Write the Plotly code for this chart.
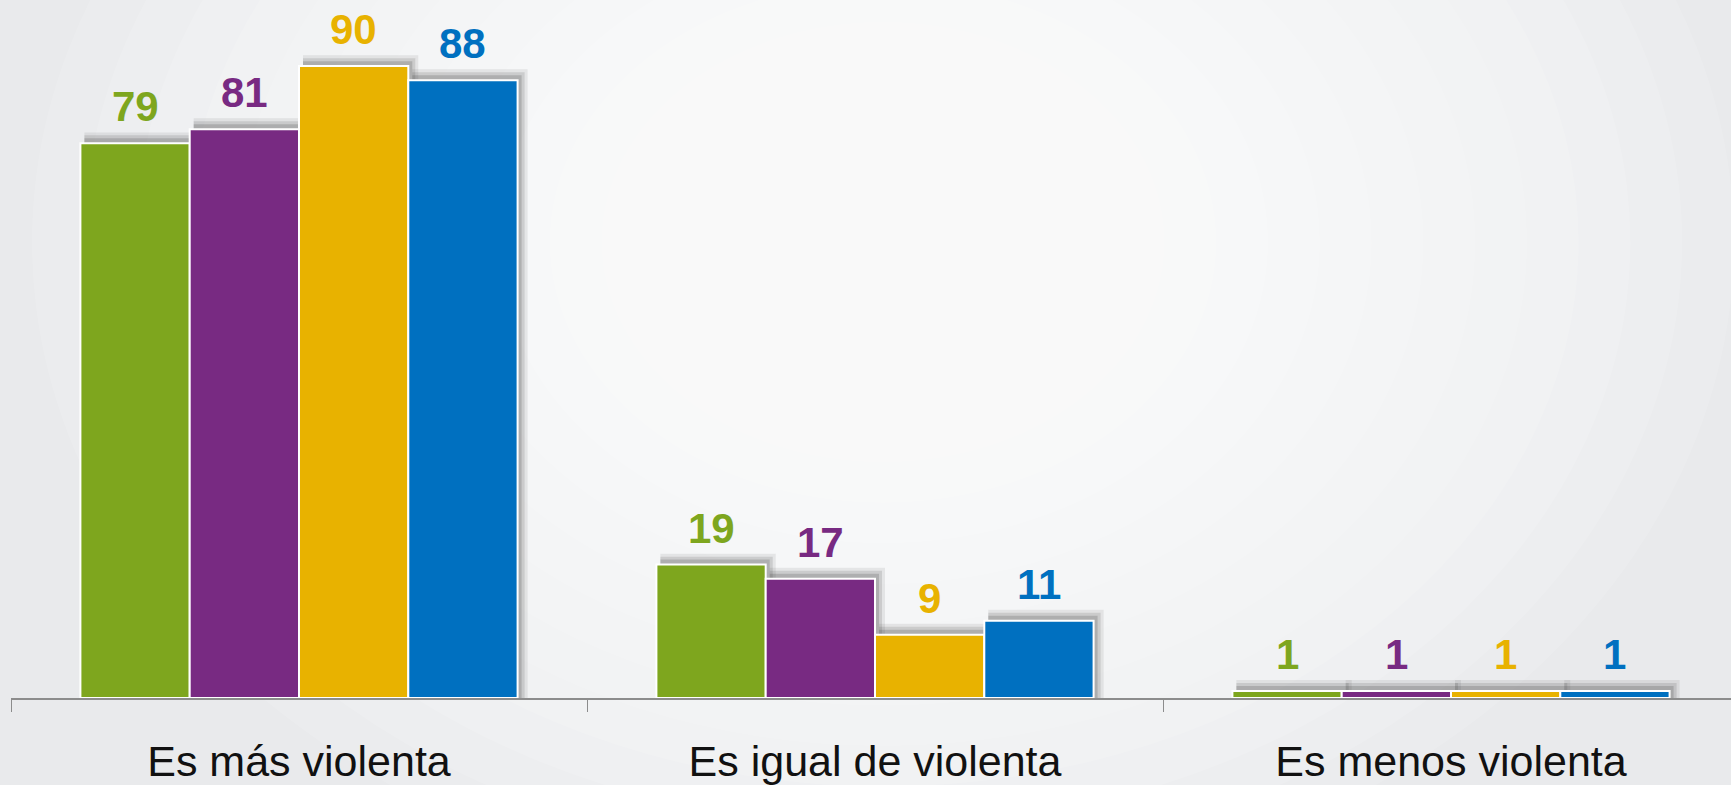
import plotly.graph_objects as go

categories = ["Es más violenta", "Es igual de violenta", "Es menos violenta"]
series_names = ["Serie 1", "Serie 2", "Serie 3", "Serie 4"]
values_s1 = [79, 19, 1]
values_s2 = [81, 17, 1]
values_s3 = [90, 9, 1]
values_s4 = [88, 11, 1]
colors = ["#7EA61E", "#782A82", "#E8B200", "#0070C0"]

all_values = [values_s1, values_s2, values_s3, values_s4]

W, H = 1731, 785
ML, MR, MT, MB = 11, 0, 31, 84
plot_w = W - ML - MR
plot_h = H - MT - MB
cat_px = 576.0
x_range = [-0.5, -0.5 + plot_w / cat_px]
y_max = 95
y_range = [0, y_max]
px_per_unit = plot_h / y_max
bargap = 0.241
n = len(all_values)
bar_units = (1 - bargap) / n
bar_px = bar_units * cat_px

fig = go.Figure()

shapes = []
# background radial highlight
cx, cy = (883 - ML) / plot_w, (H - MB - 243) / plot_h
for k in range(14):
    r = 740 - k * 45
    shapes.append(dict(type="circle", xref="paper", yref="paper",
                       xsizemode="pixel", ysizemode="pixel",
                       xanchor=cx, yanchor=cy,
                       x0=-r * 1.15, x1=r * 1.15, y0=-r * 0.9, y1=r * 0.9,
                       fillcolor="white", opacity=0.13, line=dict(width=0),
                       layer="below"))

# bar drop shadows
for si, vals in enumerate(all_values):
    for ci, v in enumerate(vals):
        left = ci - (1 - bargap) / 2 + si * bar_units
        right = left + bar_units
        for k, op in [(10, 0.09), (7, 0.14), (4, 0.2)]:
            shapes.append(dict(type="rect", xref="x", yref="y",
                               x0=left + 4 / cat_px, x1=right + k / cat_px,
                               y0=0, y1=v + (k + 1) / px_per_unit,
                               fillcolor="#3a3a3a", opacity=op,
                               line=dict(width=0), layer="below"))

annotations = []
for si, (name, vals, col) in enumerate(zip(series_names, all_values, colors)):
    fig.add_trace(go.Bar(
        name=name, x=categories, y=vals,
        marker=dict(color=col, line=dict(color="white", width=2)),
        hoverinfo="x+y",
    ))
    for ci, v in enumerate(vals):
        annotations.append(dict(
            x=categories[ci], y=v, xref="x", yref="y",
            text=f"<b>{v}</b>", showarrow=False,
            xshift=(si - (n - 1) / 2) * bar_px,
            yanchor="bottom", yshift=11,
            font=dict(family="Liberation Sans, Arial, sans-serif", size=42, color=col),
        ))

fig.update_layout(
    width=W, height=H,
    margin=dict(l=ML, r=MR, t=MT, b=MB, pad=0),
    paper_bgcolor="#e9eaec",
    plot_bgcolor="rgba(0,0,0,0)",
    barmode="group", bargap=bargap, bargroupgap=0,
    showlegend=False,
    shapes=shapes,
    annotations=annotations,
    xaxis=dict(range=x_range, showgrid=False, zeroline=False,
               showline=True, linecolor="#8c8c8c", linewidth=2,
               ticks="outside", tickson="boundaries", ticklen=12,
               tickcolor="#8c8c8c", tickwidth=1,
               ticklabelstandoff=24,
               tickfont=dict(family="Liberation Sans, Arial, sans-serif", size=43, color="#111111")),
    yaxis=dict(range=y_range, visible=False, showgrid=False, zeroline=False),
)

fig.write_html("out.html", config={"displayModeBar": False},
               post_script="document.body.style.margin='0';document.body.style.overflow='hidden';")
